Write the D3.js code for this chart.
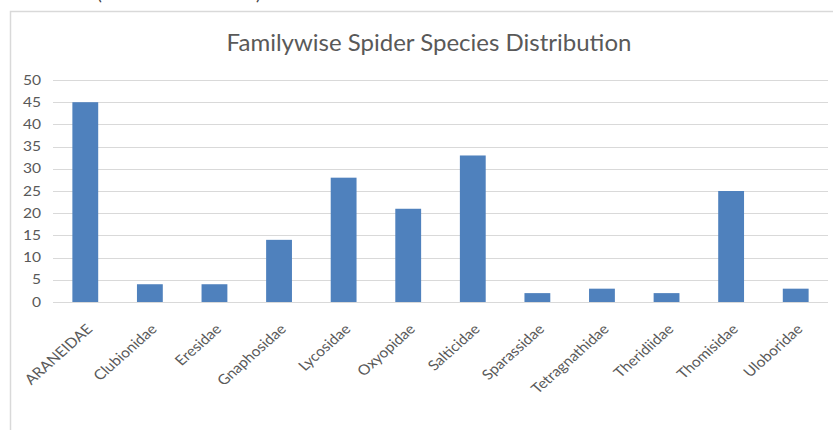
<!DOCTYPE html>
<html>
<head>
<meta charset="utf-8">
<script src="https://cdn.jsdelivr.net/npm/d3@7"></script>
<style>
  html, body { margin: 0; padding: 0; background: #fff; }
  svg { display: block; font-family: Lato, "Open Sans", sans-serif; }
</style>
</head>
<body>
<svg id="chart" width="833" height="430"></svg>
<script>
// Species counts per spider family
const families = ["ARANEIDAE", "Clubionidae", "Eresidae", "Gnaphosidae", "Lycosidae", "Oxyopidae",
                  "Salticidae", "Sparassidae", "Tetragnathidae", "Theridiidae", "Thomisidae", "Uloboridae"];
const speciesCounts = [45, 4, 4, 14, 28, 21, 33, 2, 3, 2, 25, 3];
const yTicks = [0, 5, 10, 15, 20, 25, 30, 35, 40, 45, 50];
const chartTitle = "Familywise Spider Species Distribution";

const svg = d3.select("#chart");
const plot = { left: 53, right: 828, top: 80, bottom: 302 };
const textColor = "#595959";

// Frame of the chart area
svg.append("path")
  .attr("d", "M10.5,430 V11.5 H833")
  .attr("fill", "none")
  .attr("stroke", "#d9d9d9")
  .attr("stroke-width", 1.5);

// Caption text above the frame, clipped by the page top
svg.append("text").attr("x", 97).attr("y", 0).attr("font-size", 18).attr("fill", "#404040").text("(");
svg.append("text").attr("x", 256).attr("y", 0).attr("font-size", 18).attr("fill", "#404040").text(")");

const x = d3.scaleBand().domain(families).range([plot.left, plot.right]).paddingInner(0.6).paddingOuter(0.3);
const y = d3.scaleLinear().domain([0, 50]).range([plot.bottom, plot.top]);

// Horizontal gridlines
svg.append("g")
  .selectAll("line")
  .data(yTicks)
  .join("line")
  .attr("x1", plot.left)
  .attr("x2", plot.right)
  .attr("y1", d => Math.round(y(d)) + 0.5)
  .attr("y2", d => Math.round(y(d)) + 0.5)
  .attr("stroke", "#d9d9d9")
  .attr("stroke-width", 1);

// Y axis labels
const yAxis = svg.append("g")
  .attr("transform", `translate(${plot.left - 12},0)`)
  .call(d3.axisLeft(y).tickValues(yTicks).tickSize(0).tickPadding(0));
yAxis.select(".domain").remove();
yAxis.selectAll(".tick text")
  .attr("font-family", "Lato, 'Open Sans', sans-serif")
  .attr("font-size", 13)
  .attr("fill", textColor)
  .attr("x", 0)
  .attr("transform", "scale(1.2,1)");

// Bars
svg.append("g")
  .selectAll("rect")
  .data(families)
  .join("rect")
  .attr("x", d => x(d))
  .attr("width", x.bandwidth())
  .attr("y", (d, i) => y(speciesCounts[i]))
  .attr("height", (d, i) => y(0) - y(speciesCounts[i]))
  .attr("fill", "#4f81bd");

// X axis category labels, rotated
const xAxis = svg.append("g")
  .attr("transform", `translate(0,${plot.bottom})`)
  .call(d3.axisBottom(x).tickSize(0).tickPadding(0));
xAxis.select(".domain").remove();
xAxis.selectAll(".tick text")
  .attr("font-family", "Lato, 'Open Sans', sans-serif")
  .attr("font-size", 14)
  .attr("fill", textColor)
  .attr("text-anchor", "end")
  .attr("dy", 0)
  .attr("y", 0)
  .attr("transform", "translate(8,28) scale(1.12,1) rotate(-45)");

// Title
svg.append("text")
  .attr("x", 429)
  .attr("y", 51)
  .attr("text-anchor", "middle")
  .attr("font-size", 24)
  .attr("fill", textColor)
  .text(chartTitle);
</script>
</body>
</html>
